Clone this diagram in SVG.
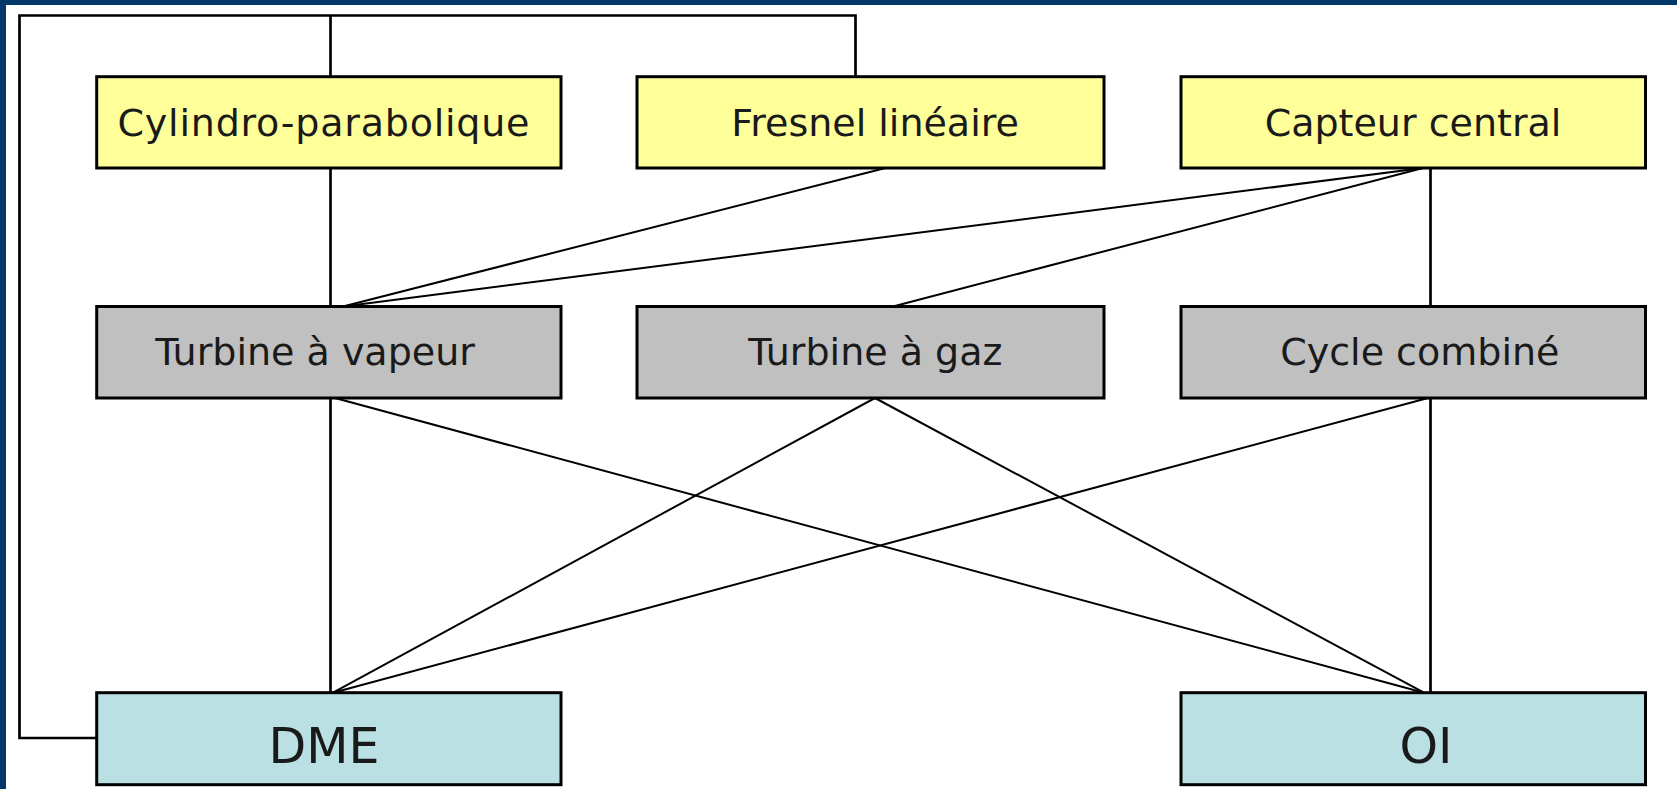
<svg xmlns="http://www.w3.org/2000/svg" width="1677" height="789" viewBox="0 0 1677 789">
  <style>
    .box { stroke: #000; stroke-width: 3; }
    .yellow { fill: #ffff99; }
    .gray { fill: #c0c0c0; }
    .blue { fill: #bae0e4; }
    .lbl { font-family: "DejaVu Sans", Verdana, sans-serif; font-size: 38px; fill: #1a1a1a; text-anchor: middle; }
    .big { font-size: 49px; }
    .conn { fill: none; stroke: #000; stroke-width: 2.7; }
    .diag { fill: none; stroke: #000; stroke-width: 2; }
  </style>
  <rect x="0" y="0" width="1677" height="789" fill="#ffffff"/>
  <rect x="0" y="0" width="1677" height="5" fill="#023769"/>
  <rect x="0" y="0" width="6" height="789" fill="#023769"/>

  <g id="connectors">
    <path class="conn" d="M96.7,738 H19.5 V15.5 H855.5 V76.7"/>
    <path class="conn" d="M330.5,15.5 V76.7"/>
    <path class="conn" d="M330.5,168 V306.5"/>
    <path class="diag" d="M885.5,168 L343,306.5"/>
    <path class="diag" d="M1423,168 L343,306.5"/>
    <path class="diag" d="M1423,168 L893,306.5"/>
    <path class="conn" d="M1430.5,168 V306.5"/>
    <path class="conn" d="M330.5,398 V692.7"/>
    <path class="diag" d="M335,398 L1424,692.7"/>
    <path class="diag" d="M875,398 L333,692.7"/>
    <path class="diag" d="M875,398 L1424,692.7"/>
    <path class="diag" d="M1428,398 L333,692.7"/>
    <path class="conn" d="M1430.5,398 V692.7"/>
  </g>

  <g id="cylindro">
    <rect class="box yellow" x="96.7" y="76.7" width="464.3" height="91.3"/>
    <text class="lbl" x="323.5" y="136" textLength="412" lengthAdjust="spacing">Cylindro-parabolique</text>
  </g>
  <g id="fresnel">
    <rect class="box yellow" x="637" y="76.7" width="467" height="91.3"/>
    <text class="lbl" x="875" y="136">Fresnel linéaire</text>
  </g>
  <g id="capteur">
    <rect class="box yellow" x="1181" y="76.7" width="464.5" height="91.3"/>
    <text class="lbl" x="1413" y="136">Capteur central</text>
  </g>

  <g id="turbine-vapeur">
    <rect class="box gray" x="96.7" y="306.5" width="464.3" height="91.5"/>
    <text class="lbl" x="315" y="365">Turbine à vapeur</text>
  </g>
  <g id="turbine-gaz">
    <rect class="box gray" x="637" y="306.5" width="467" height="91.5"/>
    <text class="lbl" x="875.4" y="365">Turbine à gaz</text>
  </g>
  <g id="cycle-combine">
    <rect class="box gray" x="1181" y="306.5" width="464.5" height="91.5"/>
    <text class="lbl" x="1419.8" y="365">Cycle combiné</text>
  </g>

  <g id="dme">
    <rect class="box blue" x="96.7" y="692.7" width="464.3" height="92"/>
    <text class="lbl big" x="324" y="763">DME</text>
  </g>
  <g id="oi">
    <rect class="box blue" x="1181" y="692.7" width="464.5" height="92"/>
    <text class="lbl big" x="1426" y="763">OI</text>
  </g>
</svg>
